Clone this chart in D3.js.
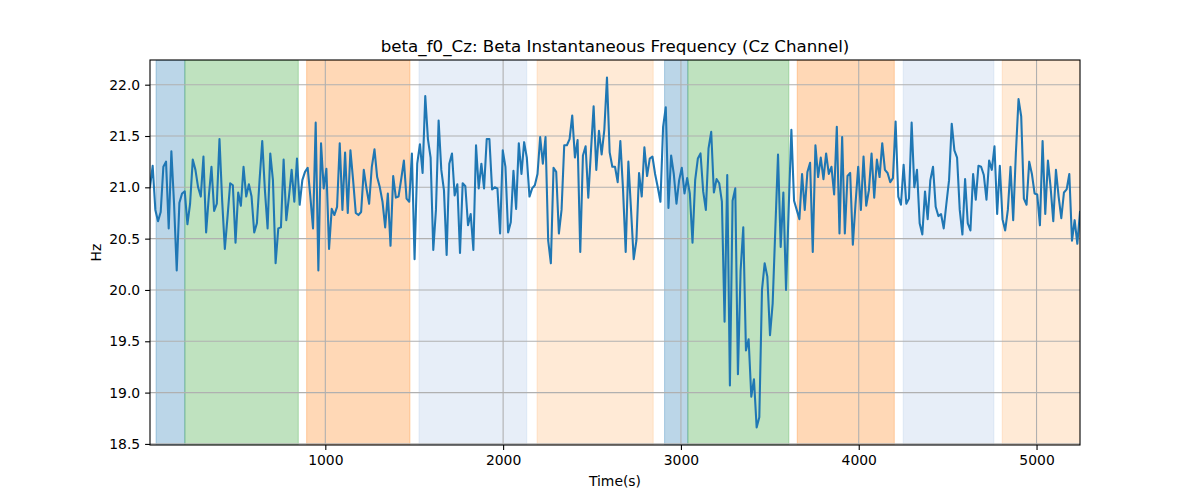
<!DOCTYPE html>
<html>
<head>
<meta charset="utf-8">
<script src="https://cdn.jsdelivr.net/npm/d3@7"></script>
<style>
  html, body { margin: 0; padding: 0; background: #fff; }
  svg { display: block; }
  text { font-family: "DejaVu Sans", sans-serif; fill: #000; }
</style>
</head>
<body>
<svg id="chart" width="1200" height="500"></svg>
<script>
// ---- data ----
const T_START = 14;
const T_STEP = 15.03;
const freqHz = [
  21.00, 21.21, 20.78, 20.67, 20.76, 21.20, 21.25, 20.60, 21.35, 20.84,
  20.19, 20.85, 20.94, 20.96, 20.64, 20.84, 21.27, 21.17, 21.00, 20.91,
  21.30, 20.56, 20.91, 21.20, 20.77, 20.84, 21.47, 20.87, 20.40, 20.71,
  21.04, 21.02, 20.46, 20.95, 20.82, 21.20, 20.91, 21.03, 20.91, 20.56,
  20.65, 21.07, 21.45, 20.97, 20.60, 21.33, 21.07, 20.26, 20.60, 20.61,
  21.27, 20.68, 20.91, 21.17, 20.86, 21.28, 20.83, 21.07, 21.15, 21.19,
  20.91, 20.60, 21.63, 20.19, 21.43, 20.99, 21.18, 20.40, 20.79, 20.73,
  20.81, 21.43, 20.78, 21.34, 20.75, 21.36, 21.07, 20.75, 20.73, 20.76,
  21.17, 20.99, 20.84, 21.20, 21.37, 21.10, 21.00, 20.86, 20.61, 20.94,
  20.43, 21.11, 20.90, 20.91, 21.08, 21.26, 20.89, 20.86, 21.33,
  20.30, 21.23, 21.42, 21.14, 21.89, 21.47, 21.29, 20.39, 20.78, 21.65,
  21.17, 20.97, 20.34, 21.23, 21.33, 20.92, 21.03, 20.36, 21.04, 21.01,
  20.63, 20.74, 20.39, 21.41, 20.99, 21.23, 20.99, 21.47, 21.47, 20.98,
  21.00, 20.99, 20.55, 21.36, 21.20, 20.56, 20.66, 21.16, 20.79, 21.43,
  21.13, 21.44, 21.29, 20.91, 20.99, 21.02, 21.13, 21.49, 21.23, 21.49,
  20.48, 20.26, 21.19, 21.15, 20.55, 20.78, 21.41, 21.41, 21.47, 21.70,
  21.29, 21.46, 20.37, 21.31, 21.40, 20.90, 21.35, 21.79, 21.17, 21.55,
  21.32, 21.56, 22.07, 21.34, 21.20, 21.20, 21.05, 21.45, 20.98, 20.37,
  21.25, 20.78, 20.30, 20.48, 21.14, 20.91, 21.39, 21.11, 21.28, 21.30,
  21.13, 21.00, 20.86, 21.59, 21.78, 20.80, 21.31, 21.13, 20.84, 21.07,
  21.19, 20.94, 21.09, 20.94, 20.46, 21.07, 21.28, 21.33, 20.96, 20.78,
  21.38, 21.54, 20.95, 21.08, 21.04, 20.86, 19.69, 21.12, 19.07, 20.87,
  20.99, 19.18, 20.19, 20.61, 19.41, 19.52, 18.96, 19.13, 18.66, 18.76,
  20.00, 20.26, 20.13, 19.56, 19.87, 20.60, 21.32, 20.42, 20.95, 20.00,
  20.80, 21.56, 20.87, 20.78, 20.69, 21.13, 20.78, 21.15, 21.24, 20.37,
  21.41, 21.10, 21.29, 21.08, 21.33, 21.13, 21.20, 20.93, 21.59, 20.55,
  21.49, 20.55, 21.11, 21.14, 20.44, 20.84, 21.20, 20.78, 21.30, 20.82,
  20.97, 21.33, 20.90, 21.27, 21.10, 21.43, 21.17, 21.14, 21.05, 21.09,
  21.64, 20.91, 20.83, 21.22, 20.84, 20.89, 21.63, 21.00, 21.17, 20.65,
  20.54, 20.96, 20.69, 21.07, 21.20, 20.81, 20.72, 20.74, 20.60, 20.84,
  21.07, 21.62, 21.36, 21.29, 20.78, 20.54, 21.08, 20.65, 20.58, 21.13,
  20.88, 21.21, 21.20, 21.12, 20.88, 21.26, 21.17, 21.40, 20.74, 21.21,
  20.69, 20.58, 20.78, 21.20, 20.68, 21.33, 21.86, 21.69, 20.89, 20.83,
  21.25, 21.13, 20.94, 20.93, 20.63, 21.45, 20.74, 21.26, 21.00, 20.67,
  21.17, 20.91, 20.70, 20.95, 20.98, 21.13, 20.48, 20.68, 20.45, 20.76
];
const spanStarts = [48, 210, 895, 1527, 2191, 2908, 3039, 3654, 4250, 4807];
const spanEnds   = [210, 848, 1476, 2133, 2844, 3039, 3607, 4200, 4760, 5260];
const spanKinds  = ["blue", "green", "orange", "lightblue", "lightorange",
                    "blue", "green", "orange", "lightblue", "lightorange"];
const xTickValues = [1000, 2000, 3000, 4000, 5000];
const yTickValues = [18.5, 19.0, 19.5, 20.0, 20.5, 21.0, 21.5, 22.0];
const titleText = "beta_f0_Cz: Beta Instantaneous Frequency (Cz Channel)";
const xLabelText = "Time(s)";
const yLabelText = "Hz";

// ---- styles ----
const spanColors = {
  blue: "#1f77b4", green: "#2ca02c", orange: "#ff7f0e",
  lightblue: "#aec7e8", lightorange: "#ffbb78"
};
const spanOpacity = 0.3;

const points = freqHz.map((v, i) => ({ t: T_START + i * T_STEP, v }));

const L = 150, R = 1080, T = 60, B = 445;
const svg = d3.select("#chart");

const x = d3.scaleLinear()
  .domain(d3.extent(points, d => d.t))
  .range([L, R]);
const [vmin, vmax] = d3.extent(freqHz);
const pad = (vmax - vmin) * 0.05;
const y = d3.scaleLinear()
  .domain([vmin - pad, vmax + pad])
  .range([B, T]);

const defs = svg.append("defs");
defs.append("clipPath").attr("id", "clip")
  .append("rect").attr("x", L).attr("y", T).attr("width", R - L).attr("height", B - T);

const plot = svg.append("g").attr("clip-path", "url(#clip)");

// spans
const spans = spanStarts.map((s, i) => ({ s, e: spanEnds[i], k: spanKinds[i] }));
plot.selectAll("rect.span").data(spans).enter().append("rect")
  .attr("class", "span")
  .attr("x", d => x(d.s))
  .attr("width", d => x(d.e) - x(d.s))
  .attr("y", T).attr("height", B - T)
  .attr("fill", d => spanColors[d.k])
  .attr("fill-opacity", spanOpacity)
  .attr("stroke", d => spanColors[d.k])
  .attr("stroke-opacity", spanOpacity)
  .attr("stroke-width", 1);

// grid
const gridColor = "#b0b0b0";
plot.selectAll("line.xgrid").data(xTickValues).enter().append("line")
  .attr("x1", d => x(d)).attr("x2", d => x(d))
  .attr("y1", T).attr("y2", B)
  .attr("stroke", gridColor).attr("stroke-width", 1.1);
plot.selectAll("line.ygrid").data(yTickValues).enter().append("line")
  .attr("x1", L).attr("x2", R)
  .attr("y1", d => y(d)).attr("y2", d => y(d))
  .attr("stroke", gridColor).attr("stroke-width", 1.1);

// line
const line = d3.line().x(d => x(d.t)).y(d => y(d.v));
plot.append("path").datum(points)
  .attr("d", line)
  .attr("fill", "none")
  .attr("stroke", "#1f77b4")
  .attr("stroke-width", 2.08)
  .attr("stroke-linejoin", "round")
  .attr("stroke-linecap", "square");

// axes
const xAxis = d3.axisBottom(x).tickValues(xTickValues).tickFormat(d3.format("d"))
  .tickSize(4.9).tickPadding(4.9);
const yAxis = d3.axisLeft(y).tickValues(yTickValues).tickFormat(d3.format(".1f"))
  .tickSize(4.9).tickPadding(4.9);

const gx = svg.append("g").attr("transform", `translate(0,${B})`).call(xAxis);
const gy = svg.append("g").attr("transform", `translate(${L},0)`).call(yAxis);
[gx, gy].forEach(g => {
  g.select(".domain").remove();
  g.selectAll(".tick line").attr("stroke", "#000").attr("stroke-width", 1.1);
  g.selectAll(".tick text").attr("font-family", "DejaVu Sans, sans-serif")
    .attr("font-size", "13.9px").attr("fill", "#000");
});

// frame
svg.append("rect").attr("x", L).attr("y", T).attr("width", R - L).attr("height", B - T)
  .attr("fill", "none").attr("stroke", "#000").attr("stroke-width", 1.1);

// labels
svg.append("text").attr("x", (L + R) / 2).attr("y", 52)
  .attr("text-anchor", "middle").attr("font-size", "16.7px").text(titleText);
svg.append("text").attr("x", (L + R) / 2).attr("y", 486)
  .attr("text-anchor", "middle").attr("font-size", "13.9px").text(xLabelText);
svg.append("text").attr("transform", `translate(101,${(T + B) / 2}) rotate(-90)`)
  .attr("text-anchor", "middle").attr("font-size", "13.9px").text(yLabelText);
</script>
</body>
</html>
